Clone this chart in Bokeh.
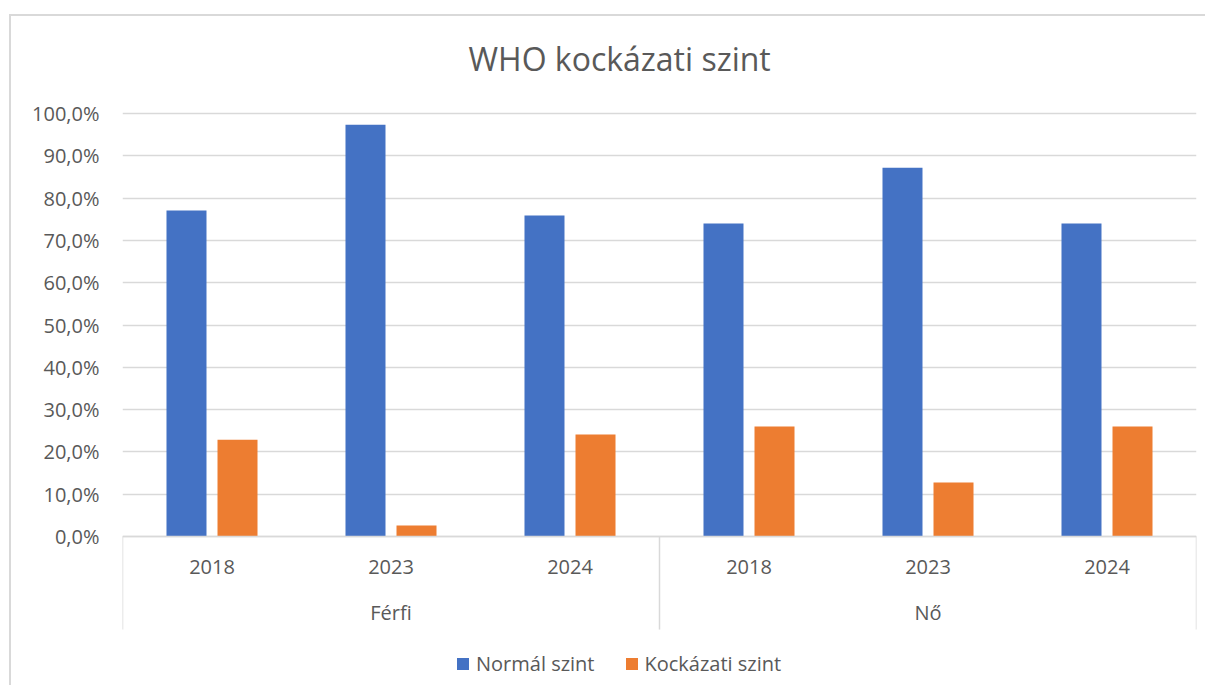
from bokeh.plotting import figure
from bokeh.models import (FactorRange, Range1d, FixedTicker, CustomJSTickFormatter,
                          ColumnDataSource, Title)
from bokeh.transform import dodge
from bokeh.core.properties import value
from bokeh.embed import file_html
from bokeh.resources import INLINE

# ---- data ----
title_text = "WHO kockázati szint"
groups = ["Férfi", "Nő"]
years = ["2018", "2023", "2024"]
series_names = ["Normál szint", "Kockázati szint"]
normal = [77.1, 97.4, 75.9, 74.0, 87.2, 74.0]
risk = [22.9, 2.6, 24.1, 26.0, 12.8, 26.0]
y_ticks = [0, 10, 20, 30, 40, 50, 60, 70, 80, 90, 100]

# ---- styles ----
FONT = "Open Sans"
TXT = "#595959"
GRID = "#d9d9d9"
BLUE = "#4472C4"
ORANGE = "#ED7D31"
FS = "20px"

factors = [(g, y) for g in groups for y in years]
src = ColumnDataSource(dict(x=factors, normal=normal, risk=risk,
                            year=[f[1] for f in factors]))

x_range = FactorRange(factors=factors, range_padding=0, factor_padding=0,
                      group_padding=0, subgroup_padding=0)

p = figure(width=1196, height=671, x_range=x_range, y_range=Range1d(-35.7, 105),
           output_backend="svg", toolbar_location=None,
           min_border_left=111, min_border_right=11, min_border_top=76,
           min_border_bottom=0,
           styles={"margin-left": "9px", "margin-top": "14px",
                   "border-left": "2px solid #d9d9d9",
                   "border-top": "2px solid #d9d9d9"})

p.title = Title(text=title_text, align="left", offset=346, standoff=26,
                text_font=FONT, text_font_size="32px", text_color=TXT,
                text_font_style="normal")

bw = 0.2235
off = 0.1425
p.vbar(x=dodge("x", -off, range=p.x_range), top="normal", width=bw, source=src,
       fill_color=BLUE, line_color=None, legend_label=series_names[0])
p.vbar(x=dodge("x", off, range=p.x_range), top="risk", width=bw, source=src,
       fill_color=ORANGE, line_color=None, legend_label=series_names[1])

# category axis drawn in data space (Excel-style multi-level axis)
left_edge = (groups[0], years[0], -0.5)
right_edge = (groups[-1], years[-1], 0.5)
p.segment(x0=[left_edge], y0=[0], x1=[right_edge], y1=[0],
          line_color=GRID, line_width=1.5)
bounds = [(g, years[0], -0.5) for g in groups] + [right_edge]
p.segment(x0=bounds, y0=[0] * len(bounds), x1=bounds, y1=[-22] * len(bounds),
          line_color=GRID, line_width=1.5)

p.text(x="x", y=-7.2, text="year", source=src, text_align="center",
       text_baseline="middle", text_font=value(FONT), text_font_size=FS,
       text_color=TXT)
p.text(x=groups, y=[-18] * len(groups), text=groups, text_align="center",
       text_baseline="middle", text_font=value(FONT), text_font_size=FS,
       text_color=TXT)

# axes
p.xaxis.visible = False
p.xgrid.visible = False
p.yaxis.ticker = FixedTicker(ticks=y_ticks)
p.yaxis.formatter = CustomJSTickFormatter(
    code="return tick.toFixed(1).replace('.', ',') + '%';")
p.yaxis.axis_line_color = None
p.yaxis.major_tick_line_color = None
p.yaxis.minor_tick_line_color = None
p.yaxis.major_label_standoff = 17
p.yaxis.major_label_text_font = FONT
p.yaxis.major_label_text_font_size = FS
p.yaxis.major_label_text_color = TXT
p.ygrid.grid_line_color = GRID
p.ygrid.grid_line_width = 1.5
p.outline_line_color = None

# legend
lg = p.legend[0]
lg.orientation = "horizontal"
lg.location = (333, 10)
lg.padding = 0
lg.margin = 0
lg.spacing = 29
lg.label_standoff = 6
lg.glyph_width = 15
lg.glyph_height = 15
lg.label_text_font = FONT
lg.label_text_font_size = FS
lg.label_text_color = TXT
lg.border_line_color = None
lg.background_fill_alpha = 0

open("out.html", "w").write(file_html(p, INLINE))
